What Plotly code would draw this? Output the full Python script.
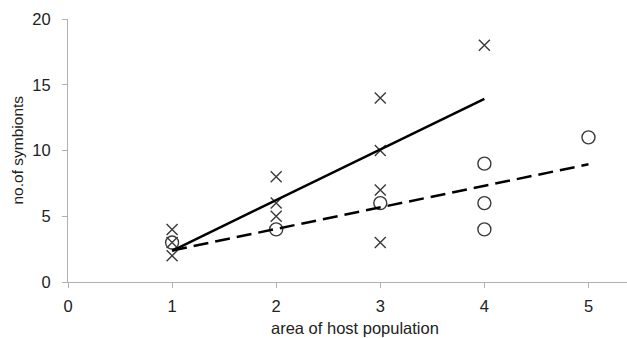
import numpy as np
import plotly.graph_objects as go

# crosses series
cross_x = [1, 1, 1, 2, 2, 2, 3, 3, 3, 3, 4]
cross_y = [4, 3, 2, 8, 6, 5, 14, 10, 7, 3, 18]
# circles series
circ_x = [1, 2, 3, 4, 4, 4, 5]
circ_y = [3, 4, 6, 9, 6, 4, 11]

x_ticks = [0, 1, 2, 3, 4, 5]
y_ticks = [0, 5, 10, 15, 20]

def fit(xs, ys):
    m, b = np.polyfit(xs, ys, 1)
    xx = np.array([min(xs), max(xs)])
    return xx, m * xx + b

fx1, fy1 = fit(cross_x, cross_y)
fx2, fy2 = fit(circ_x, circ_y)

mk = "#3a3a3a"
fig = go.Figure()
fig.add_trace(go.Scatter(x=cross_x, y=cross_y, mode="markers",
                         marker=dict(symbol="x-thin-open", size=11, color=mk, line=dict(color=mk, width=1.4)),
                         showlegend=False))
fig.add_trace(go.Scatter(x=circ_x, y=circ_y, mode="markers",
                         marker=dict(symbol="circle-open", size=13, color=mk, line=dict(color=mk, width=1.4)),
                         showlegend=False))
fig.add_trace(go.Scatter(x=fx1, y=fy1, mode="lines", line=dict(color="black", width=2.5),
                         showlegend=False))
fig.add_trace(go.Scatter(x=fx2, y=fy2, mode="lines", line=dict(color="black", width=2.5, dash="15px,7px"),
                         showlegend=False))

fig.update_layout(
    width=627, height=338,
    margin=dict(l=68, r=0, t=19, b=56),
    paper_bgcolor="white", plot_bgcolor="white",
    font=dict(family="Liberation Sans, Arial, sans-serif", color="#222"),
    annotations=[
        dict(text="area of host population", xref="paper", yref="paper",
             x=0.513, y=-46 / 263, xanchor="center", yanchor="middle",
             showarrow=False, font=dict(size=16.5, color="#222")),
        dict(text="no.of symbionts", xref="paper", yref="paper",
             x=-51 / 559, y=0.5, xanchor="center", yanchor="middle", textangle=-90,
             showarrow=False, font=dict(size=15.5, color="#222")),
    ],
)
fig.update_xaxes(range=[0, 5.37], tickvals=x_ticks, showgrid=False, zeroline=False,
                 showline=True, linecolor="#b0b0b0", linewidth=1, automargin=False,
                 ticks="outside", ticklen=5, tickcolor="#b0b0b0",
                 tickfont=dict(size=16.5, color="#222"), ticklabelstandoff=4)
fig.update_yaxes(range=[0, 20], tickvals=y_ticks, showgrid=False, zeroline=False,
                 showline=True, linecolor="#b0b0b0", linewidth=1, automargin=False,
                 ticks="outside", ticklen=5, tickcolor="#b0b0b0",
                 tickfont=dict(size=16.5, color="#222"), ticklabelstandoff=8)

fig.write_html("out.html", config={"displayModeBar": False},
               post_script="document.body.style.margin='0';")
